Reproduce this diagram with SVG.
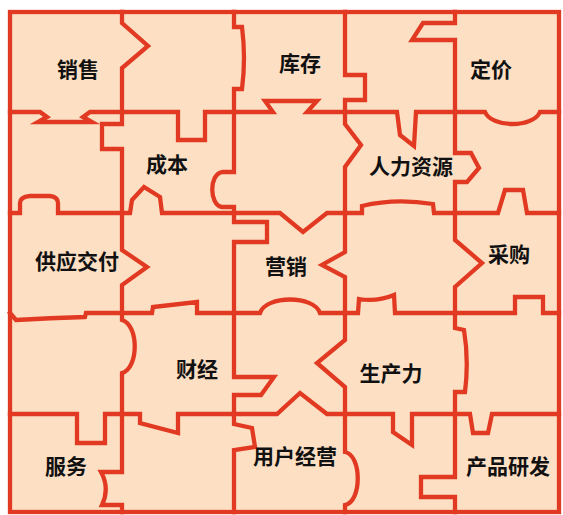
<svg xmlns="http://www.w3.org/2000/svg" width="563" height="515" viewBox="0 0 563 515">
<style>
.cut{fill:none;stroke:#E23A22;stroke-width:4.3;stroke-linejoin:miter;stroke-linecap:square}
.lbl{font-family:"Noto Sans CJK SC","Noto Sans",sans-serif;font-size:21px;fill:#111;text-anchor:middle;dominant-baseline:central;font-weight:bold}
</style>
<rect x="0" y="0" width="563" height="515" fill="#ffffff"/>
<rect id="board" x="10" y="12" width="549" height="500" fill="#FDE0C4"/>
<g id="connectors">
<path class="cut" d="M122,12 L122,23 L148,46 L122,68 L122,124 L102,124 L102,149 L122,149 L122,250 L147,267 L122,285 L122,320 C139,325 139,368 122,373 L122,472 L101,472 Q110,488 102,505 L122,505 L122,512"/>
<path class="cut" d="M234,12 L234,27 L242,27 Q246,58 242,89 L234,89 L234,172 L222,172 C209,174 209,205 222,207 L234,207 L234,222 L267,222 L267,242 L234,242 L234,377 L274,377 L261,395 L234,395 L234,424 L252,428 L255,447 L234,450 L234,512"/>
<path class="cut" d="M345,12 L345,75 L365,75 L365,100 L345,100 L345,124 L361,145 L345,167 L345,252 L322,265 L345,277 L345,340 L317,363 L345,387 L345,452 C362,455 362,502 345,505 L345,512"/>
<path class="cut" d="M455,12 L455,23 L423,23 L412,40 L455,40 L455,153 L471,153 L479,168 L467,182 L455,182 L455,240 L482,263 L455,287 L455,328 L464,330 Q469,360 465,392 L455,392 L455,477 L421,477 L421,497 L455,497 L455,512"/>
<path class="cut" d="M10,112 L40,112 L47,117 L38,122 L92,122 L83,117 L90,112 L178,112 L178,140 L205,140 L205,112 L273,112 L265,101 L317,101 L307,112 L397,112 L400,135 L414,146 L416,112 L485,112 C492,128 533,128 540,112 L559,112"/>
<path class="cut" d="M10,213 L20,213 L20,203 Q20,197 30,196 L50,196 Q58,197 58,203 L58,213 L130,213 L132,200 L144,187 L160,197 L162,213 L280,213 L303,232 L327,213 L362,213 L362,206 Q395,198 433,204 L434,213 L498,213 L505,190 L523,190 L527,213 L559,213"/>
<path class="cut" d="M10,313 L16,320 Q50,318 85,317 L86,313 L152,313 L153,307 L197,302 L197,313 L260,313 C266,295 314,295 320,313 L358,313 L359,299 Q377,302 394,295 L395,313 L515,313 L515,297 L543,297 L543,313 L559,313"/>
<path class="cut" d="M10,414 L77,414 L77,443 L105,443 L105,414 L140,414 L140,423 L178,433 L178,414 L277,414 L300,393 L327,414 L393,414 L393,432 L412,445 L412,414 L470,414 L473,433 L488,433 L492,414 L559,414"/>
<rect class="cut" x="10" y="12" width="549" height="500"/>
</g>
<g id="p-xiaoshou"><text class="lbl" x="78" y="68">销售</text></g>
<g id="p-kucun"><text class="lbl" x="300" y="62">库存</text></g>
<g id="p-dingjia"><text class="lbl" x="491" y="68">定价</text></g>
<g id="p-chengben"><text class="lbl" x="167" y="163">成本</text></g>
<g id="p-renliziyuan"><text class="lbl" x="411" y="165">人力资源</text></g>
<g id="p-gongyingjiaofu"><text class="lbl" x="77" y="260">供应交付</text></g>
<g id="p-yingxiao"><text class="lbl" x="286" y="265">营销</text></g>
<g id="p-caigou"><text class="lbl" x="509" y="253">采购</text></g>
<g id="p-caijing"><text class="lbl" x="197" y="368">财经</text></g>
<g id="p-shengchanli"><text class="lbl" x="391" y="372">生产力</text></g>
<g id="p-fuwu"><text class="lbl" x="66" y="465">服务</text></g>
<g id="p-yonghujingying"><text class="lbl" x="295" y="455">用户经营</text></g>
<g id="p-chanpinyanfa"><text class="lbl" x="508" y="465">产品研发</text></g>
</svg>
